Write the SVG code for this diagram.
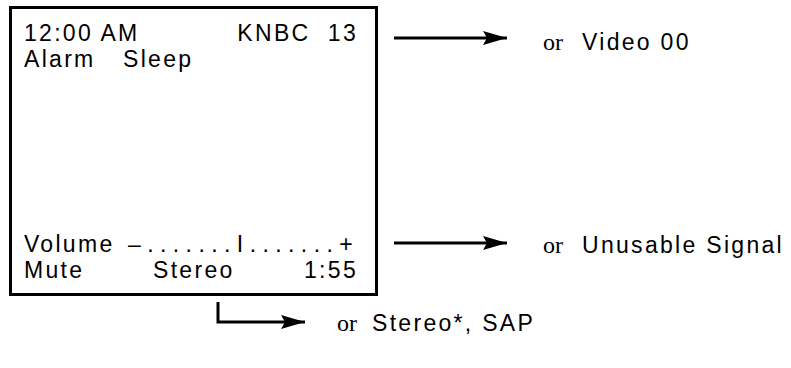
<svg xmlns="http://www.w3.org/2000/svg" width="791" height="368" viewBox="0 0 791 368">
<defs>
<style>
.s{font-family:"Liberation Sans",Arial,sans-serif;font-size:23px;fill:#000;letter-spacing:2.3px}
.r{font-family:"Liberation Serif","Times New Roman",serif;font-size:24px;fill:#000}
.c{fill:none;stroke:#000;stroke-width:3}
</style>
<marker id="ah" markerUnits="userSpaceOnUse" markerWidth="26" markerHeight="16" refX="24" refY="7" orient="auto">
<path d="M0,0 L24,7 L0,14 L4,7 Z" fill="#000"/>
</marker>
</defs>
<rect width="791" height="368" fill="#fff"/>
<g id="display">
<rect x="10.5" y="7.5" width="366" height="287" fill="none" stroke="#000" stroke-width="3"/>
<text class="s" x="24" y="41">12:00 AM</text>
<text class="s" x="358" y="41" text-anchor="end" xml:space="preserve">KNBC  13</text>
<text class="s" x="24" y="67">Alarm</text>
<text class="s" x="123" y="67">Sleep</text>
<text class="s" x="24" y="252">Volume</text>
<text class="s" x="128" y="252" textLength="227" lengthAdjust="spacing">–.......I.......+</text>
<text class="s" x="24" y="278">Mute</text>
<text class="s" x="153" y="278">Stereo</text>
<text class="s" x="358" y="278" text-anchor="end">1:55</text>
</g>
<g id="connectors">
<path class="c" d="M394,38 H507" marker-end="url(#ah)"/>
<path class="c" d="M394,243 H507" marker-end="url(#ah)"/>
<path class="c" d="M218,302 V322 H305" marker-end="url(#ah)"/>
</g>
<g id="label-video">
<text x="543" y="50"><tspan class="r">or</tspan><tspan class="s" x="582">Video 00</tspan></text>
</g>
<g id="label-signal">
<text x="543" y="253"><tspan class="r">or</tspan><tspan class="s" x="582">Unusable Signal</tspan></text>
</g>
<g id="label-sap">
<text x="337" y="331"><tspan class="r">or</tspan><tspan class="s" x="372">Stereo*, SAP</tspan></text>
</g>
</svg>
